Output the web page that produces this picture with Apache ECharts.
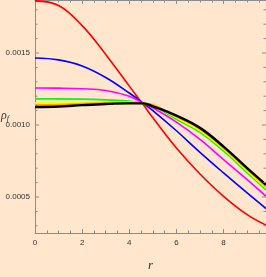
<!DOCTYPE html>
<html>
<head>
<meta charset="utf-8">
<script src="https://cdn.jsdelivr.net/npm/echarts@6/dist/echarts.min.js"></script>
<style>html,body{margin:0;padding:0;background:#ffe6cc;}#c{width:266px;height:277px;}</style>
</head>
<body>
<div id="c"></div>
<script>
const rValues = [0, 1, 2, 3, 4, 4.6, 5, 6, 7, 8, 9, 9.8];
const redValues     = [0.001862, 0.00183, 0.00169, 0.00149, 0.00127, 0.00114, 0.00105, 0.00084, 0.00066, 0.000505, 0.000378, 0.000305];
const blueValues    = [0.001465, 0.001452, 0.00141, 0.00133, 0.001222, 0.00115, 0.0011, 0.00096, 0.00081, 0.000667, 0.000528, 0.00042];
const magentaValues = [0.001257, 0.001256, 0.001252, 0.00124, 0.0012, 0.00115, 0.00112, 0.00102, 0.0009, 0.00076, 0.00062, 0.000505];
const greenValues   = [0.001181, 0.001181, 0.00118, 0.001175, 0.001166, 0.00115, 0.001135, 0.00104, 0.00095, 0.00082, 0.00067, 0.00055];
const yellowValues  = [0.001153, 0.001154, 0.001157, 0.00116, 0.00116, 0.00115, 0.00114, 0.00105, 0.00096, 0.000832, 0.00068, 0.000562];
const orangeValues  = [0.001139, 0.001141, 0.001148, 0.001153, 0.001155, 0.00115, 0.00114, 0.001058, 0.00097, 0.00084, 0.00069, 0.000573];
const blackValues   = [0.001125, 0.001128, 0.001138, 0.001146, 0.00115, 0.00115, 0.00113, 0.001065, 0.00098, 0.00085, 0.0007, 0.000585];
const yTickValues = [0.0003, 0.0004, 0.0005, 0.0006, 0.0007, 0.0008, 0.0009, 0.0010, 0.0011, 0.0012, 0.0013, 0.0014, 0.0015, 0.0016, 0.0017, 0.0018];
const yLabelValues = [0.0005, 0.0010, 0.0015];

const X_MIN = 0, X_MAX = 9.8, Y_MIN = 0.00025, Y_MAX = 0.001868;
const frameColor = '#8c8c8c';
const labelFont = {fontFamily: 'Liberation Sans Narrow, Liberation Sans, Arial', fontSize: 8, color: '#333'};

function pairs(ys) { return rValues.map((r, i) => [r, ys[i]]); }
function line(name, ys, color, w) {
  return {name, type: 'line', data: pairs(ys), showSymbol: false, smooth: 0.4,
    lineStyle: {color, width: w}, itemStyle: {color}, silent: true, z: 3};
}

const chart = echarts.init(document.getElementById('c'), null, {renderer: 'canvas'});
chart.setOption({
  backgroundColor: '#ffe6cc',
  animation: false,
  grid: {left: 35, right: 0, top: 0, bottom: 44, containLabel: false, outerBoundsMode: 'none'},
  xAxis: [{
    type: 'value', min: X_MIN, max: X_MAX, interval: 2,
    name: 'r', nameLocation: 'middle', nameGap: 26,
    nameTextStyle: {fontFamily: 'Liberation Serif, DejaVu Serif', fontStyle: 'italic', fontSize: 13, color: '#333'},
    axisLine: {show: true, lineStyle: {color: frameColor, width: 1}},
    axisTick: {show: true, inside: true, length: 4, lineStyle: {color: frameColor}},
    minorTick: {show: true, splitNumber: 4, length: 2.5, lineStyle: {color: frameColor}},
    axisLabel: {...labelFont, margin: 6, showMaxLabel: false,
      formatter: v => (Math.abs(v % 2) < 1e-9 ? String(v) : '')},
    splitLine: {show: false}
  }, {
    type: 'value', min: X_MIN, max: X_MAX, interval: 2, position: 'top',
    axisLine: {show: true, lineStyle: {color: frameColor, width: 1}},
    axisTick: {show: true, inside: true, length: 4, lineStyle: {color: frameColor}},
    minorTick: {show: true, splitNumber: 4, length: 2.5, lineStyle: {color: frameColor}},
    axisLabel: {show: false}, splitLine: {show: false}
  }],
  yAxis: [{
    type: 'value', min: Y_MIN, max: Y_MAX, interval: 0.00005,
    axisLine: {show: true, lineStyle: {color: frameColor, width: 1}},
    axisTick: {show: false},
    axisLabel: {...labelFont, margin: 5, showMinLabel: false, showMaxLabel: false,
      formatter: v => {
        const m = yLabelValues.find(t => Math.abs(t - v) < 1e-9);
        return m !== undefined ? m.toFixed(4) : '';
      }},
    splitLine: {show: false}
  }, {
    type: 'value', min: Y_MIN, max: Y_MAX, interval: 0.00005, position: 'right',
    axisLine: {show: true, lineStyle: {color: frameColor, width: 1}},
    axisTick: {show: false}, axisLabel: {show: false}, splitLine: {show: false}
  }],
  graphic: [{
    type: 'text', left: 1, top: 110, silent: true,
    style: {
      text: '{a|ρ}{b|f}',
      rich: {
        a: {fontFamily: 'Liberation Serif, DejaVu Serif', fontStyle: 'italic', fontSize: 12, fill: '#333'},
        b: {fontFamily: 'Liberation Serif, DejaVu Serif', fontStyle: 'italic', fontSize: 8, fill: '#333', padding: [5, 0, 0, 0]}
      }
    }
  }],
  series: [
    line('red', redValues, '#ff0000', 1.6),
    line('blue', blueValues, '#0000ff', 1.6),
    line('magenta', magentaValues, '#ff00ff', 1.6),
    line('green', greenValues, '#00ff00', 1.8),
    line('yellow', yellowValues, '#ffff00', 1.8),
    line('orange', orangeValues, '#ffa500', 1.8),
    line('black', blackValues, '#000000', 2.4),
    {
      type: 'custom', silent: true, z: 5,
      data: yTickValues.map(v => [X_MIN, v]),
      renderItem: (params, api) => {
        const v = api.value(1);
        const major = yLabelValues.some(t => Math.abs(t - v) < 1e-9);
        const len = major ? 4 : 2.5;
        const pL = api.coord([X_MIN, v]);
        const pR = api.coord([X_MAX, v]);
        const st = {stroke: frameColor, lineWidth: 1};
        return {type: 'group', children: [
          {type: 'line', shape: {x1: pL[0], y1: pL[1], x2: pL[0] + len, y2: pL[1]}, style: st},
          {type: 'line', shape: {x1: pR[0], y1: pR[1], x2: pR[0] - len, y2: pR[1]}, style: st}
        ]};
      }
    }
  ]
});
</script>
</body>
</html>
